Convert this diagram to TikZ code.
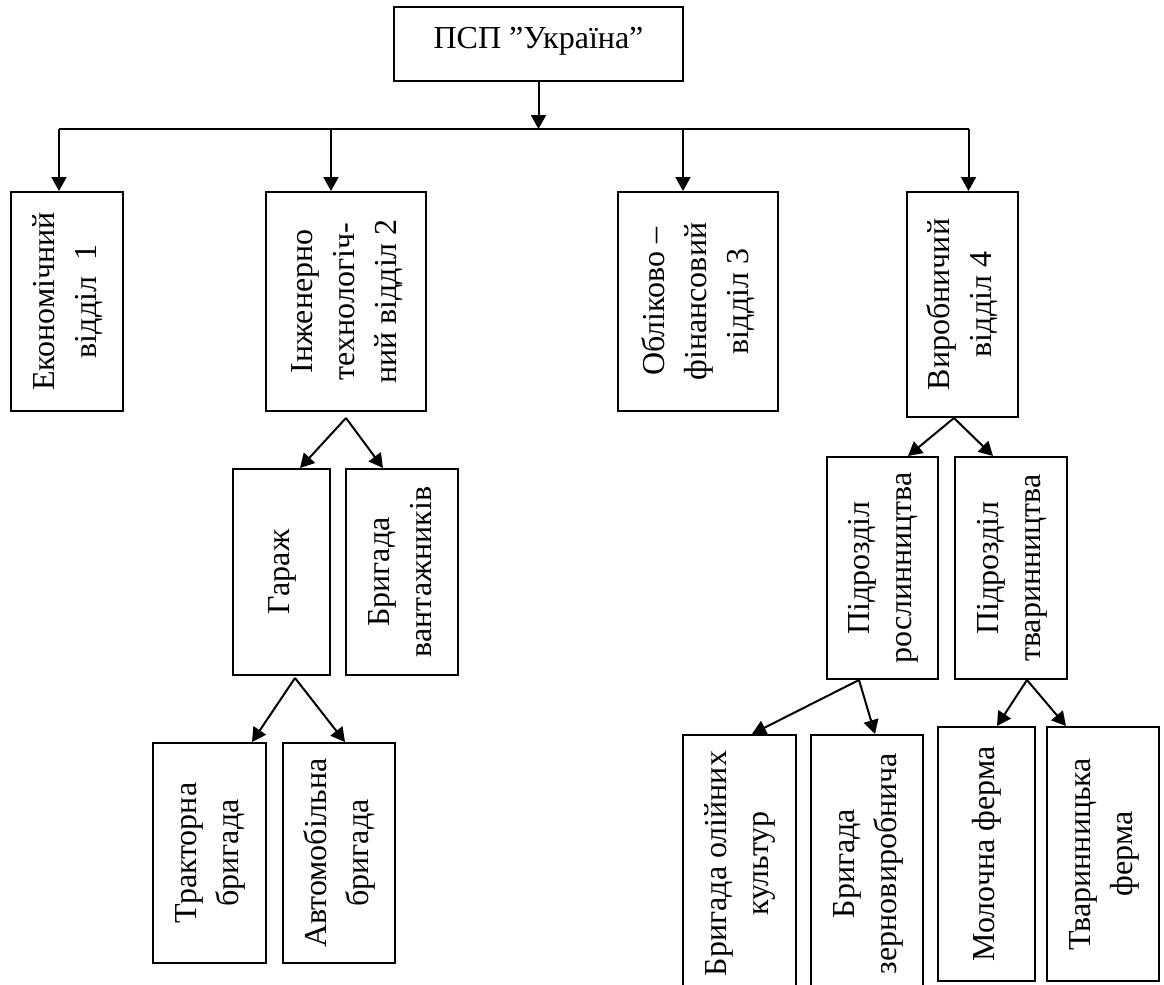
\documentclass[tikz,border=0pt]{standalone}
\usepackage{fontspec}
\setmainfont{Liberation Serif}
\usepackage{graphicx}
\usetikzlibrary{arrows.meta}

\newcommand{\vlabel}[1]{\rotatebox{90}{\begin{tabular}{@{}c@{}}#1\end{tabular}}}

\begin{document}
\begin{tikzpicture}[x=0.5pt, y=-0.5pt, line width=1pt,
  arr/.style={-{Triangle[length=7pt,width=7.5pt]}},
  unit node/.style={draw, inner sep=0pt}]
        \tikzstyle{every node}=[font=\fontsize{16}{21}\selectfont]
        \useasboundingbox (0,0) rectangle (1164,985);

          \node[unit node, minimum width=144.5pt, minimum height=37pt, text height=10pt, text depth=6pt] (0) at (538.5,44) {ПСП ”Україна”};

          \node[unit node, minimum width=56pt, minimum height=109.5pt] (1) at (67,301.5) {\vlabel{Економічний\\відділ\ \ 1}};
          \node[unit node, minimum width=80pt, minimum height=109.5pt] (2) at (346,301.5) {\vlabel{Інженерно\\технологіч-\\ний відділ 2}};
          \node[unit node, minimum width=80pt, minimum height=109.5pt] (3) at (698,301.5) {\vlabel{Обліково –\\фінансовий\\відділ 3}};
          \node[unit node, minimum width=55.5pt, minimum height=112.5pt] (4) at (962.5,304.5) {\vlabel{Виробничий\\відділ 4}};

          \node[unit node, minimum width=48.5pt, minimum height=103pt] (21) at (281.5,572) {\vlabel{Гараж}};
          \node[unit node, minimum width=56pt, minimum height=103pt] (22) at (402,572) {\vlabel{Бригада\\вантажників}};
          \node[unit node, minimum width=56.5pt, minimum height=110pt] (211) at (209.5,853) {\vlabel{Тракторна\\бригада}};
          \node[unit node, minimum width=56pt, minimum height=110pt] (212) at (339,853) {\vlabel{Автомобільна\\бригада}};

          \node[unit node, minimum width=55.5pt, minimum height=111pt] (41) at (882.5,568) {\vlabel{Підрозділ\\рослинництва}};
          \node[unit node, minimum width=56pt, minimum height=111pt] (42) at (1011,568) {\vlabel{Підрозділ\\тваринництва}};
          \node[unit node, minimum width=56.5pt, minimum height=128.5pt] (411) at (739.5,863.5) {\vlabel{Бригада олійних\\культур}};
          \node[unit node, minimum width=56pt, minimum height=128.5pt] (412) at (867,863.5) {\vlabel{Бригада\\зерновиробнича}};
          \node[unit node, minimum width=48.5pt, minimum height=127pt] (421) at (986.5,854) {\vlabel{Молочна ферма}};
          \node[unit node, minimum width=56pt, minimum height=127pt] (422) at (1103,854) {\vlabel{Тваринницька\\ферма}};

          % main bus
          \coordinate (bus) at (539,129);
          \draw[arr] (0.south) -- (0.south |- bus);
          \draw ([xshift=-4pt]1.north |- bus) -- ([xshift=3pt]4.north |- bus);
          \foreach \n/\s in {1/-4pt, 2/-7.5pt, 3/-7.5pt, 4/3pt}
            \draw[arr] ([xshift=\s]\n.north |- bus) -- ([xshift=\s]\n.north);

          % sub units
          \draw[arr] ([yshift=-3pt]2.south) -- ([xshift=9.25pt]21.north);
          \draw[arr] ([yshift=-3pt]2.south) -- ([xshift=-9.5pt]22.north);
          \draw[arr] ([xshift=6.75pt,yshift=-1pt]21.south) -- ([xshift=21.25pt]211.north);
          \draw[arr] ([xshift=6.75pt,yshift=-1pt]21.south) -- ([xshift=3pt]212.north);

          \draw[arr] ([xshift=-4.25pt]4.south) -- ([xshift=12.75pt]41.north);
          \draw[arr] ([xshift=-4.25pt]4.south) -- ([xshift=-9pt]42.north);
          \draw[arr] ([xshift=-11.75pt]41.south) -- ([xshift=6.25pt]411.north);
          \draw[arr] ([xshift=-11.75pt]41.south) -- ([xshift=4pt]412.north);
          \draw[arr] ([xshift=8pt]42.south) -- ([xshift=5.25pt]421.north);
          \draw[arr] ([xshift=8pt]42.south) -- ([xshift=-18.5pt]422.north);

        \end{tikzpicture}
\end{document}
